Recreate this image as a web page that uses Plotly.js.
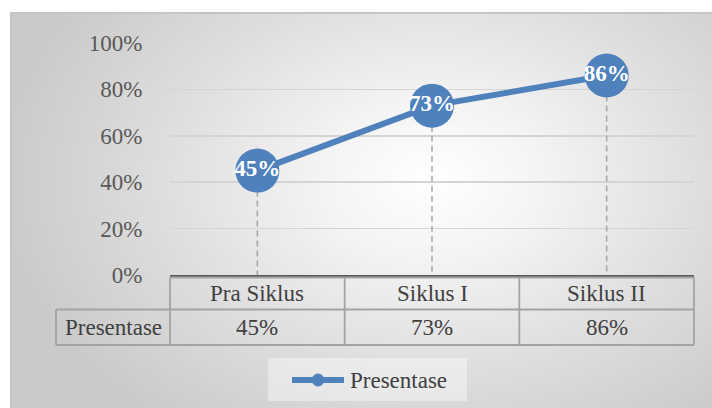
<!DOCTYPE html>
<html>
<head>
<meta charset="utf-8">
<script src="https://cdn.plot.ly/plotly-3.0.1.min.js"></script>
<style>
  html, body { margin: 0; padding: 0; background: #ffffff; width: 712px; height: 408px; overflow: hidden; }
  #bg { position: absolute; left: 10px; top: 12px; width: 702px; height: 396px; box-sizing: border-box;
        border-top: 2px solid #c4c4c4; border-left: 2px solid #c4c4c4;
        background: radial-gradient(ellipse 62% 78% at 60% 42%, #ffffff 0%, #f4f4f4 25%, #dedede 62%, #cacaca 100%); }
  #chart { position: absolute; left: 0; top: 0; width: 712px; height: 408px; }
</style>
</head>
<body>
<div id="bg"></div>
<div id="chart"></div>
<script>
// ---- data ----
var categories = ['Pra Siklus', 'Siklus I', 'Siklus II'];
var values = [0.45, 0.73, 0.86];
var valueLabels = ['45%', '73%', '86%'];
var seriesName = 'Presentase';
var yTickVals = [0, 0.2, 0.4, 0.6, 0.8, 1.0];
var yTickLabels = ['0%', '20%', '40%', '60%', '80%', '100%'];

// ---- styling constants ----
var FONT = '"Liberation Serif", "Times New Roman", serif';
var FS = 23;
var BLUE = '#4f81bd';
var GRID = '#d4d4d4';
var TABLE = '#a3a3a3';
var TXT = '#404040';

// plot area geometry in pixels (for paper conversions of table/legend decorations)
var L = 170, R = 694, T = 43, B = 275;
function px(x) { return (x - L) / (R - L); }
function py(y) { return (B - y) / (B - T); }

// drop lines built from data
var dropX = [], dropY = [];
for (var i = 0; i < categories.length; i++) {
  dropX.push(categories[i], categories[i], null);
  dropY.push(values[i], 0, null);
}

var traces = [
  { x: dropX, y: dropY, mode: 'lines', type: 'scatter', hoverinfo: 'skip', showlegend: false,
    line: { color: '#a6a6a6', width: 1.5, dash: '6px,4px' } },
  { x: categories, y: values, name: seriesName, type: 'scatter', mode: 'lines+markers+text',
    text: valueLabels, textposition: 'middle center', cliponaxis: false, showlegend: false,
    textfont: { family: FONT, size: FS, color: '#ffffff', weight: 'bold' },
    line: { color: BLUE, width: 6 },
    marker: { color: BLUE, size: 44, symbol: 'circle' } }
];

var shapes = [];
var annotations = [];
function hline(x0, x1, y) { shapes.push({ type: 'line', xref: 'paper', yref: 'paper', x0: x0, x1: x1, y0: y, y1: y, line: { color: TABLE, width: 1.8 } }); }
function vline(x, y0, y1) { shapes.push({ type: 'line', xref: 'paper', yref: 'paper', x0: x, x1: x, y0: y0, y1: y1, line: { color: TABLE, width: 1.8 } }); }

var rTop = py(277.5), rMid = py(309.5), rBot = py(345);
var leftCell = px(56);
hline(0, 1, rTop);
hline(leftCell, 1, rMid);
hline(leftCell, 1, rBot);
for (var k = 0; k <= categories.length; k++) vline(k / categories.length, rTop, rBot);
vline(leftCell, rMid, rBot);

for (var j = 0; j < categories.length; j++) {
  annotations.push({ x: (j + 0.5) / categories.length, xref: 'paper', y: (rTop + rMid) / 2, yref: 'paper',
    text: categories[j], showarrow: false, xanchor: 'center', yanchor: 'middle',
    font: { family: FONT, size: FS, color: TXT } });
  annotations.push({ x: (j + 0.5) / categories.length, xref: 'paper', y: (rMid + rBot) / 2, yref: 'paper',
    text: valueLabels[j], showarrow: false, xanchor: 'center', yanchor: 'middle',
    font: { family: FONT, size: FS, color: TXT } });
}
annotations.push({ x: (leftCell + 0) / 2, xref: 'paper', y: (rMid + rBot) / 2, yref: 'paper',
  text: seriesName, showarrow: false, xanchor: 'center', yanchor: 'middle',
  font: { family: FONT, size: FS, color: TXT } });

// legend (drawn manually to match the long line symbol)
shapes.push({ type: 'rect', xref: 'paper', yref: 'paper', x0: px(268), x1: px(467), y0: py(401), y1: py(358),
  fillcolor: 'rgba(255,255,255,0.4)', line: { width: 0 }, layer: 'below' });
var ly = py(380);
shapes.push({ type: 'line', xref: 'paper', yref: 'paper', x0: px(292), x1: px(344), y0: ly, y1: ly,
  line: { color: BLUE, width: 6 } });
shapes.push({ type: 'circle', xref: 'paper', yref: 'paper', x0: px(312), x1: px(324), y0: py(386), y1: py(374),
  fillcolor: BLUE, line: { color: BLUE, width: 1 } });
annotations.push({ x: px(348), xref: 'paper', y: ly, yref: 'paper', text: seriesName, showarrow: false,
  xanchor: 'left', yanchor: 'middle', font: { family: FONT, size: FS, color: TXT } });

var layout = {
  width: 712, height: 408,
  margin: { l: L, r: 712 - R, t: T, b: 408 - B },
  paper_bgcolor: 'rgba(0,0,0,0)', plot_bgcolor: 'rgba(0,0,0,0)',
  showlegend: false,
  xaxis: { type: 'category', range: [-0.5, categories.length - 0.5], showticklabels: false, ticks: '',
    showgrid: false, zeroline: false, showline: true, linecolor: '#595959', linewidth: 2, fixedrange: true },
  yaxis: { range: [0, 1], tickvals: yTickVals, ticktext: yTickLabels, showgrid: true, gridcolor: GRID, gridwidth: 1.5,
    zeroline: false, showline: false, ticks: 'outside', ticklen: 22, tickcolor: 'rgba(0,0,0,0)',
    tickfont: { family: FONT, size: FS, color: '#595959' }, fixedrange: true },
  shapes: shapes,
  annotations: annotations
};

Plotly.newPlot('chart', traces, layout, { displayModeBar: false, staticPlot: true });
</script>
</body>
</html>
